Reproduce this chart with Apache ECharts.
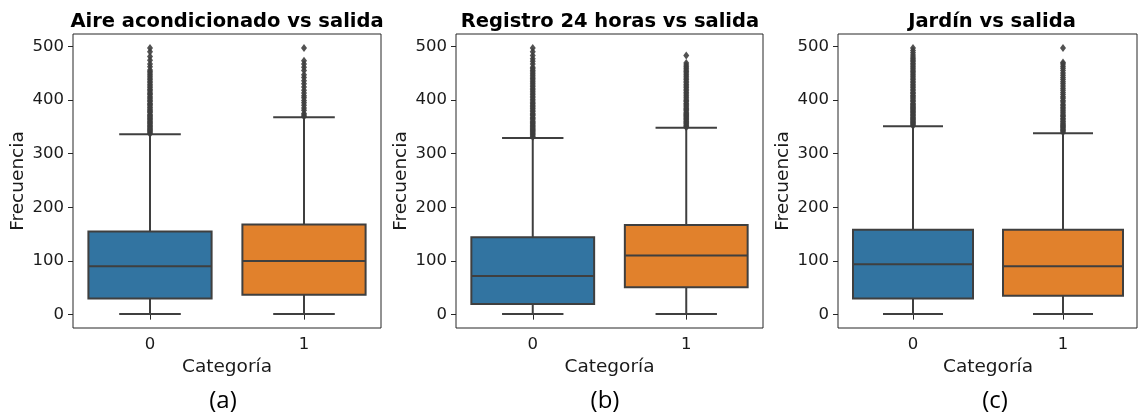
<!DOCTYPE html>
<html>
<head>
<meta charset="utf-8">
<script src="https://cdn.jsdelivr.net/npm/echarts@6/dist/echarts.min.js"></script>
<style>
  html, body { margin: 0; padding: 0; background: #fff; }
  #chart { width: 1138px; height: 417px; }
</style>
</head>
<body>
<div id="chart"></div>
<script>
// Categories and tick values shared by the three panels
const categories = ['0', '1'];
const yTicks = [0, 100, 200, 300, 400, 500];
const panelTitles = ['Aire acondicionado vs salida', 'Registro 24 horas vs salida', 'Jardín vs salida'];
const panelTags = ['(a)', '(b)', '(c)'];

// Box summaries per category: [lower whisker, Q1, median, Q3, upper whisker]
const aireBox = [[1, 30, 90, 155, 336], [1, 37, 100, 168, 368]];
const registroBox = [[1, 20, 72, 144, 329], [1, 51, 110, 167, 348]];
const jardinBox = [[1, 30, 94, 158, 351], [1, 35, 90, 158, 338]];

// Outliers beyond the upper whisker
const aireOut0 = [337, 339, 341, 343, 345, 347, 349, 351, 353, 355, 357, 359, 361, 363, 365, 367, 369, 371, 373, 376, 378, 380, 382, 385, 387, 390, 392, 394, 397, 399, 402, 404, 407, 410, 412, 415, 418, 420, 423, 426, 429, 432, 435, 438, 441, 444, 447, 450, 453, 456, 462, 467, 474, 481, 490, 497];
const aireOut1 = [369, 372, 375, 381, 385, 390, 395, 399, 404, 408, 413, 418, 424, 430, 436, 442, 447, 455, 461, 467, 473, 497];
const registroOut0 = [331, 333, 335, 337, 339, 341, 343, 345, 347, 349, 351, 353, 355, 357, 359, 361, 364, 366, 368, 371, 373, 375, 378, 380, 383, 385, 388, 390, 393, 395, 398, 401, 404, 407, 410, 413, 416, 419, 422, 425, 428, 431, 434, 437, 440, 443, 446, 449, 452, 455, 458, 461, 467, 472, 477, 483, 490, 497];
const registroOut1 = [349, 351, 353, 355, 357, 359, 361, 363, 365, 367, 369, 371, 373, 375, 377, 380, 382, 384, 387, 389, 392, 394, 397, 399, 402, 405, 408, 411, 414, 417, 420, 423, 426, 429, 432, 435, 438, 441, 444, 447, 450, 453, 456, 459, 462, 465, 469, 483];
const jardinOut0 = [352, 354, 356, 358, 360, 362, 364, 366, 368, 370, 372, 374, 376, 378, 380, 382, 384, 386, 388, 390, 392, 394, 397, 399, 402, 404, 407, 409, 412, 414, 417, 420, 423, 426, 429, 432, 435, 438, 441, 444, 447, 450, 453, 456, 459, 462, 465, 468, 471, 474, 477, 480, 484, 488, 492, 497];
const jardinOut1 = [340, 342, 344, 346, 348, 350, 352, 354, 356, 359, 361, 364, 366, 369, 371, 374, 377, 380, 383, 386, 389, 392, 396, 399, 403, 406, 410, 414, 418, 422, 426, 430, 434, 438, 442, 446, 450, 455, 459, 463, 467, 470, 497];

const boxSets = [aireBox, registroBox, jardinBox];
const outlierSets = [[aireOut0, aireOut1], [registroOut0, registroOut1], [jardinOut0, jardinOut1]];

const boxColors = ['#3274a1', '#e1812c'];
const lineGray = '#3f3f3f';
const textColor = '#1a1a1a';
const yMin = -24.9, yMax = 522.9;

const panels = [
  { left: 73, width: 308, frame: true, nameX: 18, tagX: 223 },
  { left: 456, width: 307, frame: true, nameX: 401, tagX: 605 },
  { left: 838, width: 308, frame: false, nameX: 783, tagX: 995 }
];
const gridTop = 34, gridHeight = 294;

function renderBox(params, api) {
  const cat = api.value(0);
  const lo = api.coord([cat, api.value(1)]);
  const q1 = api.coord([cat, api.value(2)]);
  const med = api.coord([cat, api.value(3)]);
  const q3 = api.coord([cat, api.value(4)]);
  const hi = api.coord([cat, api.value(5)]);
  const band = api.size([1, 0])[0];
  const half = band * 0.4;
  const cap = band * 0.2;
  const x = lo[0];
  const lineStyle = { stroke: lineGray, lineWidth: 2 };
  return {
    type: 'group',
    children: [
      { type: 'line', shape: { x1: x, y1: q3[1], x2: x, y2: hi[1] }, style: lineStyle },
      { type: 'line', shape: { x1: x, y1: q1[1], x2: x, y2: lo[1] }, style: lineStyle },
      { type: 'line', shape: { x1: x - cap, y1: hi[1], x2: x + cap, y2: hi[1] }, style: lineStyle },
      { type: 'line', shape: { x1: x - cap, y1: lo[1], x2: x + cap, y2: lo[1] }, style: lineStyle },
      { type: 'rect', shape: { x: x - half, y: q3[1], width: half * 2, height: q1[1] - q3[1] },
        style: { fill: boxColors[cat], stroke: lineGray, lineWidth: 2 } },
      { type: 'line', shape: { x1: x - half, y1: med[1], x2: x + half, y2: med[1] }, style: lineStyle }
    ]
  };
}

const grid = [];
const xAxis = [];
const yAxis = [];
const series = [];
const graphic = [];

panels.forEach((p, i) => {
  grid.push({
    left: p.left, top: gridTop, width: p.width, height: gridHeight,
    show: p.frame, borderColor: '#262626', borderWidth: 1, containLabel: false
  });
  xAxis.push({
    type: 'category', gridIndex: i, data: categories,
    name: 'Categoría', nameLocation: 'middle', nameGap: 28,
    nameTextStyle: { fontFamily: 'DejaVu Sans', fontSize: 18.5, color: textColor },
    axisLine: { show: false },
    axisTick: { show: true, alignWithLabel: true, length: 5, lineStyle: { color: '#262626' } },
    axisLabel: { fontFamily: 'DejaVu Sans', fontSize: 16.5, color: textColor, margin: 8 },
    splitLine: { show: false }
  });
  yAxis.push({
    type: 'value', gridIndex: i, min: yMin, max: yMax,
    name: 'Frecuencia', nameLocation: 'middle', nameGap: p.left - p.nameX - 10,
    nameTextStyle: { fontFamily: 'DejaVu Sans', fontSize: 18.5, color: textColor },
    axisLine: { show: false },
    axisTick: { show: true, length: 5, customValues: yTicks, lineStyle: { color: '#262626' } },
    axisLabel: { fontFamily: 'DejaVu Sans', fontSize: 16.5, color: textColor, margin: 9, customValues: yTicks },
    splitLine: { show: false }
  });
  series.push({
    type: 'custom', xAxisIndex: i, yAxisIndex: i,
    renderItem: renderBox,
    encode: { x: 0, y: [1, 2, 3, 4, 5] },
    data: boxSets[i].map((s, c) => [c].concat(s)),
    z: 2
  });
  outlierSets[i].forEach((vals, c) => {
    series.push({
      type: 'scatter', xAxisIndex: i, yAxisIndex: i,
      symbol: 'diamond', symbolSize: [6, 8],
      itemStyle: { color: lineGray, opacity: 0.9 },
      data: vals.map(v => [c, v]),
      z: 3
    });
  });
  const cx = p.left + 154;
  graphic.push({
    type: 'text', x: cx, y: 22,
    style: { text: panelTitles[i], fontFamily: 'DejaVu Sans', fontWeight: 'bold', fontSize: 19.5,
      fill: '#000', align: 'center', verticalAlign: 'middle' }
  });
  graphic.push({
    type: 'text', x: p.tagX, y: 401,
    style: { text: panelTags[i], fontFamily: 'Open Sans', fontSize: 24,
      fill: '#000', align: 'center', verticalAlign: 'middle' }
  });
});

// Outer frame of the third panel, which ends at the page edge
grid.push({ left: 838, top: gridTop, width: 299, height: gridHeight, show: true, borderColor: '#262626', borderWidth: 1 });
xAxis.push({ type: 'value', gridIndex: 3, show: false });
yAxis.push({ type: 'value', gridIndex: 3, show: false });

const chart = echarts.init(document.getElementById('chart'), null, { renderer: 'canvas' });
chart.setOption({
  animation: false,
  backgroundColor: '#ffffff',
  grid, xAxis, yAxis, series, graphic
});
</script>
</body>
</html>
